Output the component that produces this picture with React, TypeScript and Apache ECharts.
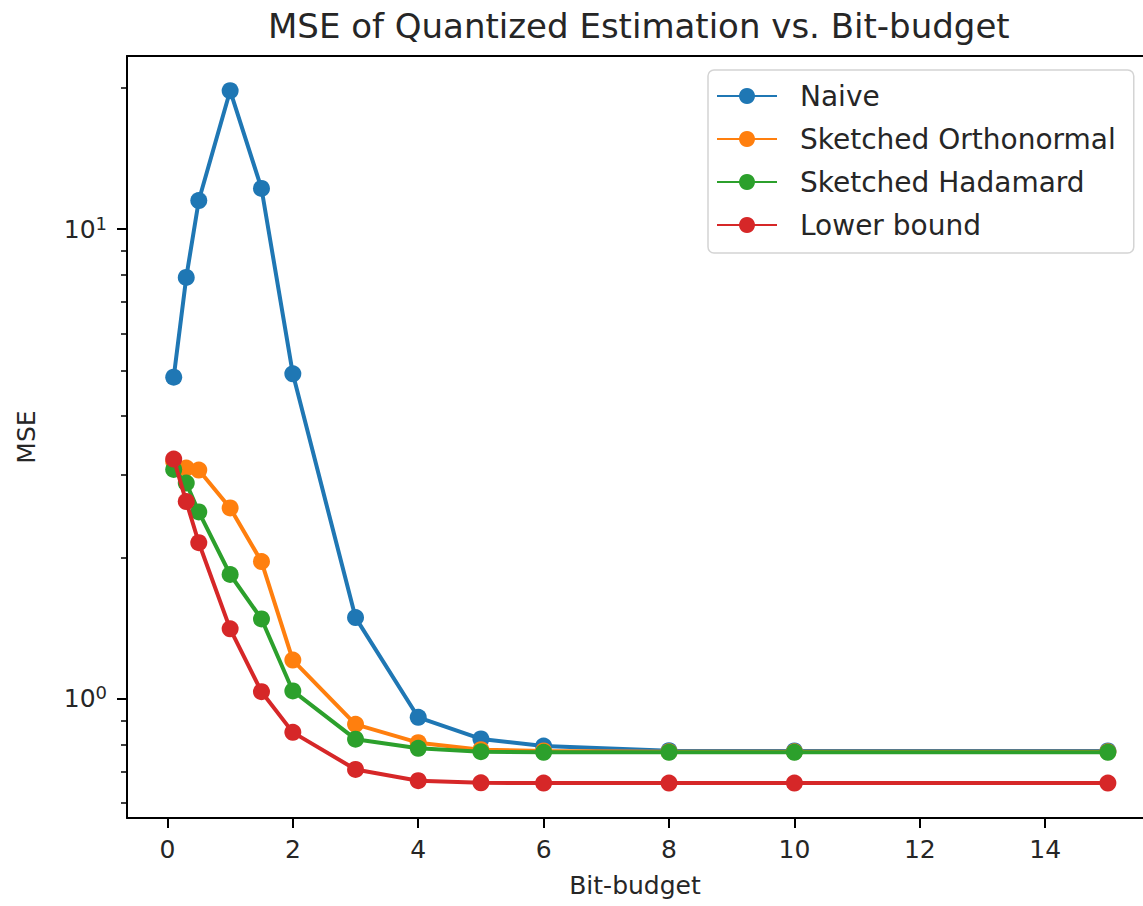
import React, { useEffect, useRef } from "react";
import * as echarts from "echarts";

// Bit budgets evaluated
const bitBudgets = [0.1, 0.3, 0.5, 1, 1.5, 2, 3, 4, 5, 6, 8, 10, 15];

// MSE per method at each bit budget
const naiveMse = [4.84, 7.89, 11.5, 19.7, 12.2, 4.92, 1.49, 0.914, 0.822, 0.794, 0.776, 0.775, 0.775];
const orthonormalMse = [3.2, 3.1, 3.07, 2.55, 1.96, 1.21, 0.883, 0.807, 0.78, 0.775, 0.772, 0.772, 0.772];
const hadamardMse = [3.08, 2.88, 2.5, 1.84, 1.48, 1.04, 0.821, 0.785, 0.772, 0.77, 0.77, 0.77, 0.77];
const lowerBoundMse = [3.24, 2.63, 2.15, 1.41, 1.036, 0.849, 0.708, 0.67, 0.663, 0.662, 0.662, 0.662, 0.662];

const seriesNames = ["Naive", "Sketched Orthonormal", "Sketched Hadamard", "Lower bound"];
const seriesColors = ["#1f77b4", "#ff7f0e", "#2ca02c", "#d62728"];

// Axis ticks
const xTicks = [0, 2, 4, 6, 8, 10, 12, 14];
const yMajorTicks = [1, 10];
const yMinorTicks = [0.6, 0.7, 0.8, 0.9, 2, 3, 4, 5, 6, 7, 8, 9, 20];

const X_MIN = -0.645;
const X_MAX = 15.56;
const Y_MIN = 0.558;
const Y_MAX = 23.35;

const FONT = "DejaVu Sans";
const TEXT = "#262626";

export default function App() {
  const ref = useRef<HTMLDivElement>(null);

  useEffect(() => {
    document.body.style.margin = "0";
    if (!ref.current) return;
    const chart = echarts.init(ref.current, undefined, { renderer: "svg" });

    const allSeries = [naiveMse, orthonormalMse, hadamardMse, lowerBoundMse];

    chart.setOption({
      animation: false,
      backgroundColor: "#ffffff",
      textStyle: { fontFamily: FONT },
      title: {
        text: "MSE of Quantized Estimation vs. Bit-budget",
        left: 263,
        top: 4,
        textStyle: { fontFamily: FONT, fontSize: 34, fontWeight: "normal", color: TEXT },
      },
      legend: {
        left: 708,
        top: 70,
        orient: "vertical",
        padding: [12, 18, 14, 8],
        itemGap: 15,
        itemWidth: 60,
        itemHeight: 20,
        backgroundColor: "rgba(255,255,255,0.85)",
        borderColor: "#d4d4d4",
        borderWidth: 1.5,
        borderRadius: 6,
        data: seriesNames,
        textStyle: {
          fontFamily: FONT,
          fontSize: 28,
          lineHeight: 27,
          color: TEXT,
          padding: [0, 0, 0, 18],
        },
      },
      grid: { left: 127, right: 0, top: 56, bottom: 88, containLabel: false },
      xAxis: [
        {
          type: "value",
          min: X_MIN,
          max: X_MAX,
          name: "Bit-budget",
          nameLocation: "middle",
          nameGap: 55,
          nameTextStyle: { fontFamily: FONT, fontSize: 25, color: TEXT },
          axisLine: { show: true, onZero: false, lineStyle: { color: "#000", width: 2 } },
          axisTick: { show: true, length: 10, lineStyle: { color: "#000", width: 2 }, customValues: xTicks },
          axisLabel: { customValues: xTicks, fontFamily: FONT, fontSize: 25, color: TEXT, margin: 19 },
          splitLine: { show: false },
        },
        {
          type: "value",
          position: "top",
          min: X_MIN,
          max: X_MAX,
          axisLine: { show: true, onZero: false, lineStyle: { color: "#000", width: 2 } },
          axisTick: { show: false },
          axisLabel: { show: false },
          splitLine: { show: false },
        },
      ],
      yAxis: [
        {
          type: "log",
          logBase: 10,
          min: Y_MIN,
          max: Y_MAX,
          name: "MSE",
          nameLocation: "middle",
          nameGap: 88,
          nameRotate: 90,
          nameTextStyle: { fontFamily: FONT, fontSize: 25, color: TEXT },
          axisLine: { show: true, onZero: false, lineStyle: { color: "#000", width: 2 } },
          axisTick: { show: true, length: 10, lineStyle: { color: "#000", width: 2 }, customValues: yMajorTicks },
          axisLabel: {
            customValues: yMajorTicks,
            margin: 20,
            fontFamily: FONT,
            fontSize: 25,
            color: TEXT,
            formatter: (v: number) => "10{s|" + Math.round(Math.log10(v)) + "}",
            rich: {
              s: { fontFamily: FONT, fontSize: 18, color: TEXT, verticalAlign: "top", padding: [0, 0, 12, 0] },
            },
          },
          splitLine: { show: false },
        },
        {
          type: "log",
          logBase: 10,
          min: Y_MIN,
          max: Y_MAX,
          position: "left",
          offset: 0,
          axisLine: { show: false, onZero: false },
          axisTick: { show: true, length: 6, lineStyle: { color: "#000", width: 1.5 }, customValues: yMinorTicks },
          axisLabel: { show: false },
          splitLine: { show: false },
        },
      ],
      series: allSeries.map((vals, i) => ({
        name: seriesNames[i],
        type: "line",
        xAxisIndex: 0,
        yAxisIndex: 0,
        data: bitBudgets.map((b, j) => [b, vals[j]]),
        symbol: "circle",
        symbolSize: 17,
        color: seriesColors[i],
        itemStyle: { color: seriesColors[i] },
        lineStyle: { color: seriesColors[i], width: 4 },
        emphasis: { disabled: true },
        z: 2 + i,
      })),
    });

    return () => chart.dispose();
  }, []);

  return <div ref={ref} style={{ width: 1143, height: 906 }} />;
}
